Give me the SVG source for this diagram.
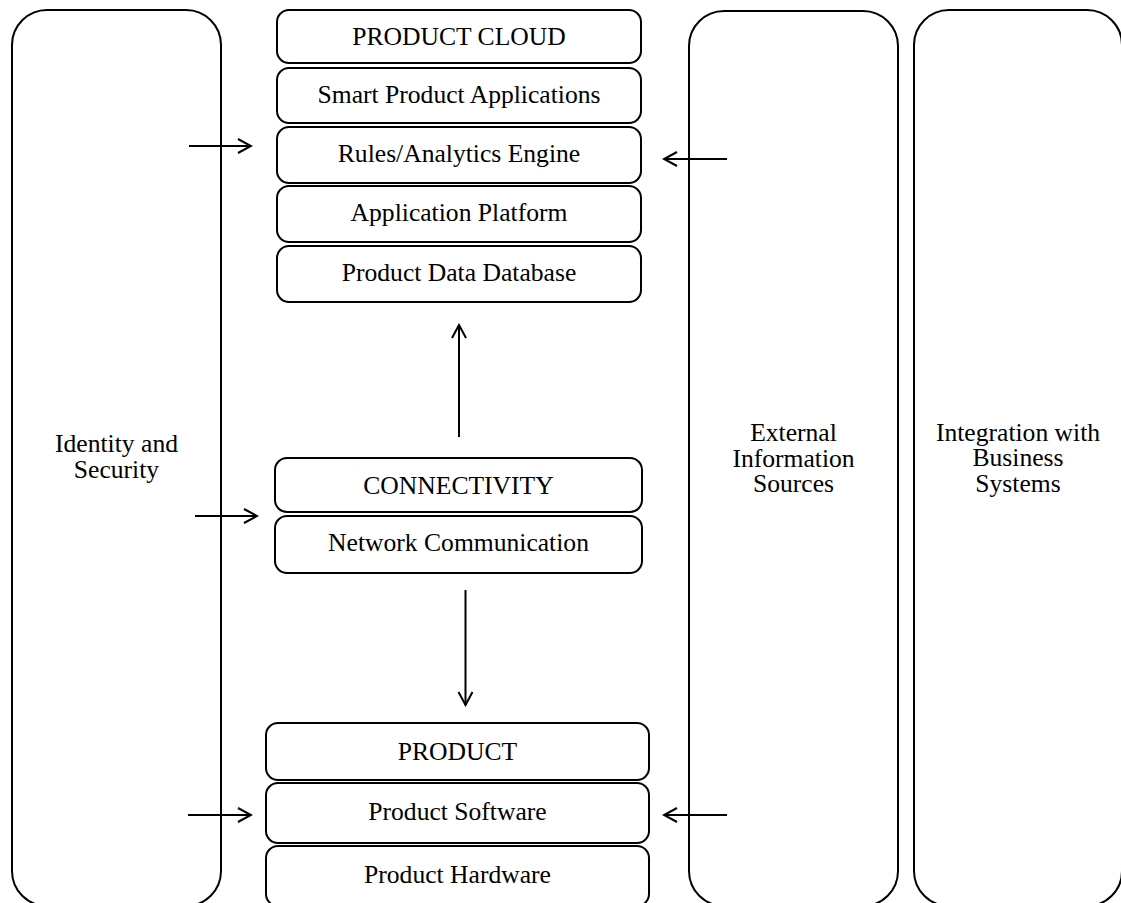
<svg xmlns="http://www.w3.org/2000/svg" width="1121" height="903" viewBox="0 0 1121 903">
<style>
.panel{fill:none;stroke:#000;stroke-width:2}
.box{fill:#fff;stroke:#000;stroke-width:2}
text{font-family:"Liberation Serif","Times New Roman",serif;font-size:25.6px;fill:#000;text-anchor:middle}
.conn{stroke:#000;stroke-width:2;fill:none;marker-end:url(#arr)}
</style>
<defs>
<marker id="arr" viewBox="-15 -9 17 18" refX="0" refY="0" markerWidth="17" markerHeight="18" markerUnits="userSpaceOnUse" orient="auto">
<path d="M-13,-7 L0,0 L-13,7" fill="none" stroke="#000" stroke-width="2"/>
</marker>
</defs>
<rect width="1121" height="903" fill="#fff"/>
<g id="identity">
<rect class="panel" x="12" y="10" width="209" height="896" rx="35"/>
<text x="116.5" y="452">Identity and</text>
<text x="116.5" y="478">Security</text>
</g>
<g id="external">
<rect class="panel" x="689" y="11" width="209" height="895" rx="35"/>
<text x="793.5" y="441">External</text>
<text x="793.5" y="467">Information</text>
<text x="793.5" y="492">Sources</text>
</g>
<g id="integration">
<rect class="panel" x="914" y="10" width="208" height="896" rx="35"/>
<text x="1018" y="441">Integration with</text>
<text x="1018" y="466">Business</text>
<text x="1018" y="492">Systems</text>
</g>
<g id="product-cloud">
<rect class="box" x="277" y="10" width="364" height="53" rx="12"/>
<text x="459" y="45">PRODUCT CLOUD</text>
</g>
<g id="smart-apps">
<rect class="box" x="277" y="68" width="364" height="55" rx="12"/>
<text x="459" y="103">Smart Product Applications</text>
</g>
<g id="rules-engine">
<rect class="box" x="277" y="127" width="364" height="56" rx="12"/>
<text x="459" y="162">Rules/Analytics Engine</text>
</g>
<g id="app-platform">
<rect class="box" x="277" y="186" width="364" height="56" rx="12"/>
<text x="459" y="221">Application Platform</text>
</g>
<g id="product-db">
<rect class="box" x="277" y="246" width="364" height="56" rx="12"/>
<text x="459" y="281">Product Data Database</text>
</g>
<g id="connectivity">
<rect class="box" x="275" y="458" width="367" height="54" rx="12"/>
<text x="458.5" y="494">CONNECTIVITY</text>
</g>
<g id="network">
<rect class="box" x="275" y="516" width="367" height="57" rx="12"/>
<text x="458.5" y="551">Network Communication</text>
</g>
<g id="product">
<rect class="box" x="266" y="723" width="383" height="57" rx="12"/>
<text x="457.5" y="760">PRODUCT</text>
</g>
<g id="software">
<rect class="box" x="266" y="783" width="383" height="60" rx="12"/>
<text x="457.5" y="820">Product Software</text>
</g>
<g id="hardware">
<rect class="box" x="266" y="846" width="383" height="60" rx="12"/>
<text x="457.5" y="883">Product Hardware</text>
</g>
<g id="connectors">
<line class="conn" x1="189" y1="146" x2="251" y2="146"/>
<line class="conn" x1="727" y1="159" x2="664" y2="159"/>
<line class="conn" x1="195" y1="516" x2="257" y2="516"/>
<line class="conn" x1="459" y1="437" x2="459" y2="325"/>
<line class="conn" x1="465.5" y1="590" x2="465.5" y2="705"/>
<line class="conn" x1="188" y1="815" x2="251" y2="815"/>
<line class="conn" x1="727" y1="815" x2="664" y2="815"/>
</g>
</svg>
